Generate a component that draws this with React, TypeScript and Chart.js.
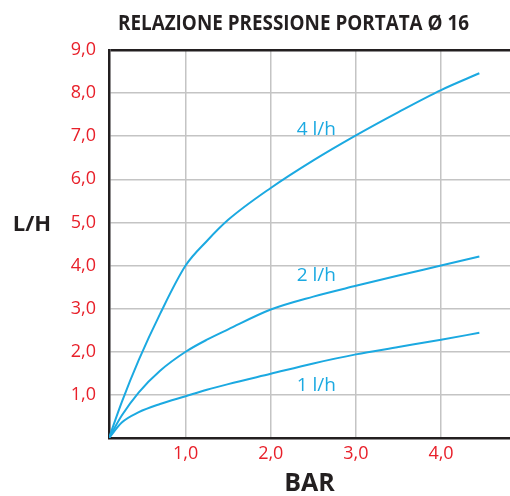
import React, { useEffect, useRef } from "react";
import { Chart, registerables } from "chart.js";

Chart.register(...registerables);

const chartTitle = "RELAZIONE PRESSIONE PORTATA Ø 16";
const xAxisTitle = "BAR";
const yAxisTitle = "L/H";

// pressure (bar)
const pressure = [0.1, 0.25, 0.45, 0.7, 1.0, 1.25, 1.5, 2.0, 2.5, 3.0, 3.5, 4.0, 4.45];
// flow curves (l/h)
const flow4 = [0, 0.83, 1.81, 2.88, 4.0, 4.57, 5.06, 5.8, 6.44, 7.02, 7.56, 8.07, 8.46];
const flow2 = [0, 0.52, 1.06, 1.56, 2.0, 2.28, 2.52, 2.98, 3.28, 3.53, 3.77, 4.0, 4.21];
const flow1 = [0, 0.36, 0.6, 0.79, 0.97, 1.12, 1.25, 1.49, 1.73, 1.94, 2.11, 2.28, 2.44];

const seriesNames = ["4 l/h", "2 l/h", "1 l/h"];
// label anchors in data coordinates (x centre, baseline y)
const labelX = [2.535, 2.535, 2.535];
const labelY = [7.03, 3.64, 1.09];

const xTicks = [1, 2, 3, 4];
const yTicks = [1, 2, 3, 4, 5, 6, 7, 8, 9];

const CYAN = "#1ba9e1";
const RED = "#e8202a";
const DARK = "#231f20";
const GRID = "#c4c4c4";
const FONT = '"Open Sans", "Noto Sans", sans-serif';

const fmt = (v: number) => v.toFixed(1).replace(".", ",");

export default function App() {
  const ref = useRef<HTMLCanvasElement>(null);

  useEffect(() => {
    if (!ref.current) return;
    const series = [flow4, flow2, flow1];
    const textPlugin = {
      id: "texts",
      afterDraw(chart: any) {
        const ctx = chart.ctx;
        const xs = chart.scales.x;
        const ys = chart.scales.y;
        ctx.save();
        // title
        ctx.fillStyle = DARK;
        ctx.font = `bold 21px ${FONT}`;
        ctx.textAlign = "center";
        ctx.textBaseline = "alphabetic";
        const w = ctx.measureText(chartTitle).width;
        const sx = Math.min(1, 351 / w);
        ctx.save();
        ctx.translate(293.5, 30);
        ctx.scale(sx, 1);
        ctx.fillText(chartTitle, 0, 0);
        ctx.restore();
        // y title
        ctx.font = `bold 22px ${FONT}`;
        ctx.fillText(yAxisTitle, 32, 231);
        // series labels
        ctx.fillStyle = CYAN;
        ctx.font = `19px ${FONT}`;
        seriesNames.forEach((n, i) => {
          ctx.fillText(n, xs.getPixelForValue(labelX[i]), ys.getPixelForValue(labelY[i]));
        });
        ctx.restore();
      },
    };

    const chart = new Chart(ref.current, {
      type: "line",
      data: {
        datasets: series.map((s, i) => ({
          label: seriesNames[i],
          data: pressure.map((p, j) => ({ x: p, y: s[j] })),
          borderColor: CYAN,
          borderWidth: 2,
          pointRadius: 0,
          fill: false,
          cubicInterpolationMode: "monotone" as const,
        })),
      },
      options: {
        responsive: false,
        animation: false,
        layout: { padding: { top: 50, left: 0, right: 0, bottom: 0 } },
        plugins: { legend: { display: false }, tooltip: { enabled: false }, title: { display: false } },
        scales: {
          x: {
            type: "linear",
            min: 0.1,
            max: 4.81,
            afterBuildTicks: (s: any) => {
              s.ticks = xTicks.map((v) => ({ value: v }));
            },
            afterFit: (s: any) => {
              s.height = 58;
            },
            ticks: {
              callback: (v: any) => fmt(Number(v)),
              color: RED,
              font: { family: FONT, size: 18 },
              padding: 5,
              maxRotation: 0,
            },
            grid: { color: GRID, lineWidth: 1.5, drawTicks: false },
            border: { color: DARK, width: 2.5 },
            title: {
              display: true,
              text: xAxisTitle,
              color: DARK,
              font: { family: FONT, size: 25, weight: "bold", lineHeight: 1 },
              padding: 0,
            },
          },
          y: {
            type: "linear",
            min: 0,
            max: 9,
            afterBuildTicks: (s: any) => {
              s.ticks = yTicks.map((v) => ({ value: v }));
            },
            afterFit: (s: any) => {
              s.width = 109;
            },
            ticks: {
              callback: (v: any) => fmt(Number(v)),
              color: RED,
              font: { family: FONT, size: 18 },
              padding: 13,
            },
            grid: {
              color: (c: any) => (c.tick && c.tick.value === 9 ? DARK : GRID),
              lineWidth: (c: any) => (c.tick && c.tick.value === 9 ? 2.5 : 1.5),
              drawTicks: false,
            },
            border: { color: DARK, width: 2.5 },
          },
        },
      },
      plugins: [textPlugin],
    } as any);
    return () => chart.destroy();
  }, []);

  return (
    <div style={{ position: "absolute", left: 0, top: 0, width: 510, height: 496, background: "#fff" }}>
      <canvas ref={ref} width={510} height={496} />
    </div>
  );
}
